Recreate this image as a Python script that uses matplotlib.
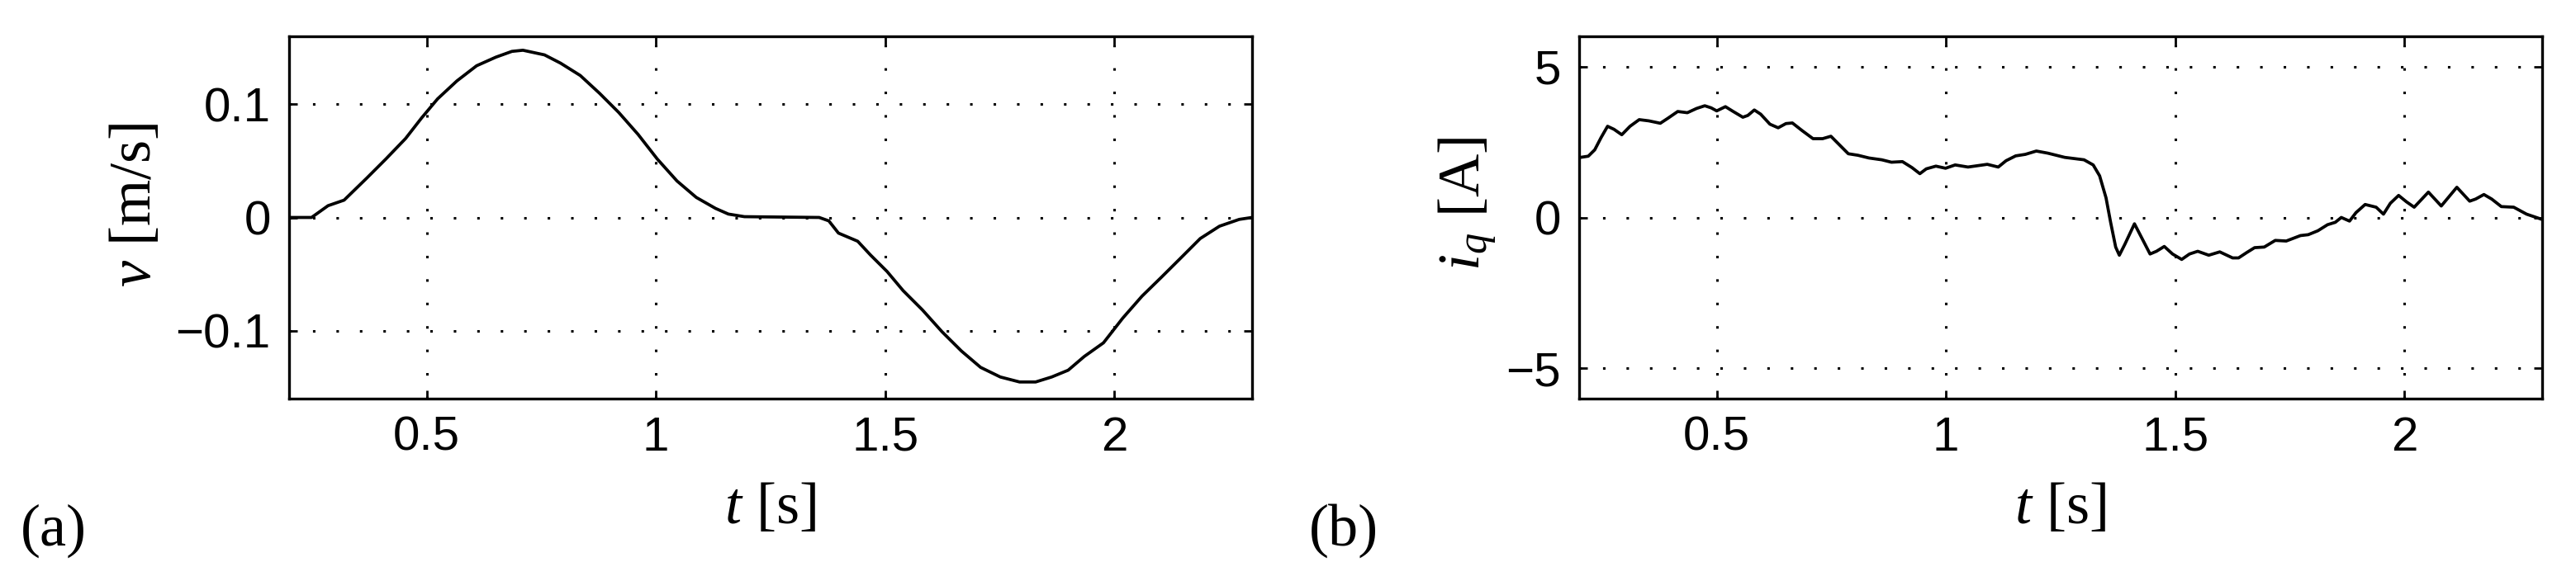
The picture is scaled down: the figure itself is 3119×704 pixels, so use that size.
import matplotlib
matplotlib.use("Agg")
import matplotlib.pyplot as plt

# ---- data ----
t_v = [0.20, 0.249, 0.256, 0.285, 0.320, 0.369, 0.411, 0.454, 0.489, 0.524, 0.566,
       0.609, 0.651, 0.686, 0.710, 0.757, 0.792, 0.835, 0.877, 0.919, 0.961, 1.003,
       1.046, 1.088, 1.130, 1.158, 1.193, 1.356, 1.377, 1.398, 1.419, 1.440, 1.468,
       1.504, 1.539, 1.581, 1.624, 1.666, 1.708, 1.751, 1.793, 1.828, 1.863, 1.899,
       1.934, 1.976, 2.018, 2.060, 2.103, 2.145, 2.187, 2.229, 2.272, 2.300]
v = [0.0, 0.0, 0.002, 0.0104, 0.0153, 0.0346, 0.0516, 0.0697, 0.0879, 0.1048, 0.1206,
     0.134, 0.1416, 0.1467, 0.1477, 0.1436, 0.1363, 0.1254, 0.1097, 0.0927, 0.0734, 0.0516,
     0.0322, 0.0177, 0.008, 0.003, 0.0007, 0.0, -0.003, -0.0138, -0.0174, -0.021, -0.0332,
     -0.0477, -0.0646, -0.0816, -0.101, -0.1179, -0.1324, -0.1409, -0.1453, -0.1453, -0.1409, -0.1349,
     -0.1228, -0.1107, -0.0889, -0.0695, -0.0525, -0.0356, -0.0186, -0.0077, -0.0017, 0.0]

t_i = [0.203, 0.220, 0.234, 0.248, 0.262, 0.276, 0.293, 0.311, 0.331, 0.352, 0.377,
       0.394, 0.415, 0.436, 0.456, 0.474, 0.488, 0.500, 0.519, 0.536, 0.557, 0.568,
       0.582, 0.596, 0.616, 0.634, 0.651, 0.665, 0.686, 0.710, 0.731, 0.749, 0.766,
       0.787, 0.808, 0.832, 0.860, 0.881, 0.905, 0.926, 0.943, 0.957, 0.978, 0.999,
       1.020, 1.048, 1.090, 1.114, 1.131, 1.152, 1.173, 1.197, 1.222, 1.259, 1.301,
       1.321, 1.335, 1.349, 1.359, 1.370, 1.378, 1.390, 1.411, 1.428, 1.445, 1.459,
       1.476, 1.494, 1.514, 1.531, 1.549, 1.573, 1.597, 1.625, 1.638, 1.656, 1.673,
       1.694, 1.718, 1.742, 1.773, 1.790, 1.811, 1.832, 1.849, 1.862, 1.880, 1.894,
       1.914, 1.938, 1.954, 1.969, 1.987, 2.004, 2.021, 2.052, 2.080, 2.114, 2.142,
       2.155, 2.173, 2.190, 2.211, 2.238, 2.266, 2.297]
i_q = [1.99, 2.03, 2.24, 2.65, 3.02, 2.92, 2.74, 3.02, 3.24, 3.20, 3.12,
       3.29, 3.51, 3.47, 3.61, 3.70, 3.63, 3.53, 3.67, 3.51, 3.32, 3.38,
       3.56, 3.42, 3.09, 2.97, 3.11, 3.13, 2.88, 2.61, 2.61, 2.69, 2.43,
       2.11, 2.06, 1.97, 1.91, 1.83, 1.85, 1.65, 1.45, 1.61, 1.70, 1.63,
       1.74, 1.67, 1.76, 1.67, 1.88, 2.04, 2.09, 2.20, 2.13, 1.99, 1.91,
       1.74, 1.38, 0.65, -0.16, -0.98, -1.25, -0.89, -0.21, -0.71, -1.21, -1.12,
       -0.96, -1.21, -1.39, -1.21, -1.12, -1.25, -1.14, -1.34, -1.34, -1.16, -1.00,
       -0.98, -0.76, -0.78, -0.60, -0.57, -0.44, -0.24, -0.16, 0.00, -0.12, 0.16,
       0.43, 0.34, 0.11, 0.47, 0.73, 0.52, 0.34, 0.84, 0.38, 1.00, 0.54,
       0.61, 0.76, 0.61, 0.36, 0.34, 0.11, -0.05]

x_ticks = [0.5, 1, 1.5, 2]
x_ticklabels = ["0.5", "1", "1.5", "2"]
v_ticks = [-0.1, 0, 0.1]
v_ticklabels = ["\u22120.1", "0", "0.1"]
i_ticks = [-5, 0, 5]
i_ticklabels = ["\u22125", "0", "5"]

# ---- styling ----
W, H = 3119, 704
fig = plt.figure(figsize=(W / 100, H / 100), dpi=100)

tick_font = dict(family="Liberation Sans", size=42)
label_font = dict(family="Liberation Serif", size=52)
plt.rcParams["mathtext.fontset"] = "custom"
plt.rcParams["mathtext.rm"] = "Liberation Serif"
plt.rcParams["mathtext.it"] = "Liberation Serif:italic"

def setup(ax, yticks, yticklabels, ylim):
    ax.set_xlim(0.2, 2.3)
    ax.set_ylim(*ylim)
    ax.set_xticks(x_ticks)
    ax.set_xticklabels(x_ticklabels, fontdict=tick_font)
    ax.set_yticks(yticks)
    ax.set_yticklabels(yticklabels, fontdict=tick_font)
    ax.tick_params(direction="in", length=7.5, width=2.0, top=True, right=True,
                   pad=15)
    ax.tick_params(axis="y", pad=16)
    for s in ax.spines.values():
        s.set_linewidth(2.4)
    ax.grid(True, color="black", linewidth=2.2, linestyle=(0, (1, 8.3)))
    ax.set_axisbelow(True)

ax1 = fig.add_axes([350 / W, 1 - 483 / H, 1166 / W, 439 / H])
ax1.plot(t_v, v, color="black", linewidth=2.7, solid_joinstyle="round")
setup(ax1, v_ticks, v_ticklabels, (-0.16, 0.16))
ax1.set_xlabel(r"$t$ [s]", **label_font)
ax1.set_ylabel(r"$v$ [m/s]", **label_font)
ax1.xaxis.set_label_coords(0.5, -0.23)
ax1.xaxis.label.set_va("top")
ax1.yaxis.set_label_coords(-0.131, 0.535)

ax2 = fig.add_axes([1912 / W, 1 - 483 / H, 1166 / W, 439 / H])
ax2.plot(t_i, i_q, color="black", linewidth=2.7, solid_joinstyle="round")
setup(ax2, i_ticks, i_ticklabels, (-6, 6))
ax2.set_xlabel(r"$t$ [s]", **label_font)
ax2.set_ylabel(r"$i_q$ [A]", **label_font)
ax2.xaxis.set_label_coords(0.5, -0.23)
ax2.xaxis.label.set_va("top")
ax2.yaxis.set_label_coords(-0.083, 0.537)

fig.text(25 / W, 1 - 643 / H, "(a)", ha="left", va="center", **label_font)
fig.text(1585 / W, 1 - 643 / H, "(b)", ha="left", va="center", **label_font)

fig.savefig("out.png", dpi=100)
